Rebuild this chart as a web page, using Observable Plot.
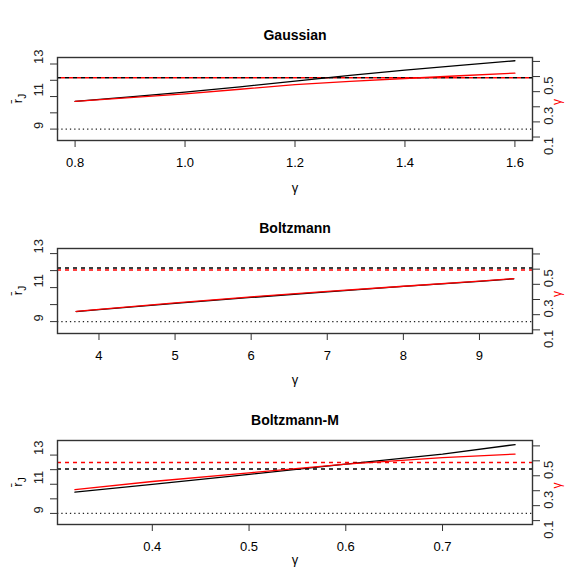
<!DOCTYPE html>
<html><head><meta charset="utf-8">
<script src="https://cdn.jsdelivr.net/npm/d3@7"></script>
<script src="https://cdn.jsdelivr.net/npm/@observablehq/plot@0.6"></script>
<style>
html,body{margin:0;padding:0;background:#fff;overflow:hidden;width:566px;height:569px}
#c svg{display:block;overflow:visible}
</style>
</head><body><div id="c"></div>
<script>
// ---- data ----
const titles = ["Gaussian", "Boltzmann", "Boltzmann-M"];

const gaussX     = [0.8, 0.9, 1.0, 1.1, 1.2, 1.3, 1.4, 1.5, 1.6];
const gaussBlack = [10.7, 10.98, 11.27, 11.6, 11.95, 12.3, 12.62, 12.92, 13.2];
const gaussRed   = [10.7, 10.93, 11.16, 11.45, 11.73, 11.93, 12.11, 12.28, 12.44];

const boltzX     = [3.7, 4, 5, 6, 7, 8, 9, 9.45];
const boltzBlack = [9.59, 9.7, 10.07, 10.42, 10.75, 11.07, 11.37, 11.52];
const boltzRed   = [9.6, 9.72, 10.1, 10.46, 10.78, 11.08, 11.38, 11.53];

const bmX     = [0.32, 0.4, 0.5, 0.6, 0.7, 0.775];
const bmBlack = [10.46, 10.99, 11.68, 12.38, 13.07, 13.72];
const bmRed   = [10.63, 11.19, 11.78, 12.38, 12.82, 13.07];

const dashBlack = [12.15, 12.16, 12.04];
const dashRed   = [12.15, 12.03, 12.5];
const dottedLevel = 9;

const gaussXTicks = [0.8, 1.0, 1.2, 1.4, 1.6];
const boltzXTicks = [4, 5, 6, 7, 8, 9];
const bmXTicks    = [0.4, 0.5, 0.6, 0.7];

const leftTicks   = [9, 10, 11, 12, 13];
const leftLabels  = [9, 11, 13];
const rightTicks  = [0.1, 0.2, 0.3, 0.4, 0.5, 0.6];
const rightLabels = [0.1, 0.3, 0.5];

const xLabel = "γ";
const rightLabel = "γ";
// ---- end data ----

const FONT = "'Liberation Sans', Arial, sans-serif";

const panels = [
  {title: titles[0], x: gaussX, black: gaussBlack, red: gaussRed, hb: dashBlack[0], hr: dashRed[0],
   xDomain: [0.768, 1.632], yDomain: [8.3, 13.4], rDomain: [0.077, 0.626], xTicks: gaussXTicks, xFmt: d3.format(".1f"),
   h: 190, mt: 57, mb: 50, titleY: 30, xlabY: 191},
  {title: titles[1], x: boltzX, black: boltzBlack, red: boltzRed, hb: dashBlack[1], hr: dashRed[1],
   xDomain: [3.455, 9.697], yDomain: [8.3, 13.3], rDomain: [0.076, 0.636], xTicks: boltzXTicks, xFmt: d3.format("d"),
   h: 190, mt: 58, mb: 47, titleY: 33, xlabY: 193},
  {title: titles[2], x: bmX, black: bmBlack, red: bmRed, hb: dashBlack[2], hr: dashRed[2],
   xDomain: [0.302, 0.793], yDomain: [8.24, 14.0], rDomain: [0.074, 0.636], xTicks: bmXTicks, xFmt: d3.format(".1f"),
   h: 189, mt: 60, mb: 45, titleY: 35, xlabY: 183}
];

const container = document.getElementById("c");

for (const p of panels) {
  const toL = r => p.yDomain[0] + (r - p.rDomain[0]) * (p.yDomain[1] - p.yDomain[0]) / (p.rDomain[1] - p.rDomain[0]);
  const blackData = p.x.map((v, i) => ({x: v, y: p.black[i]}));
  const redData = p.x.map((v, i) => ({x: v, y: p.red[i]}));
  const boxBottom = p.h - p.mb;
  const svg = Plot.plot({
    width: 566, height: p.h,
    marginLeft: 57, marginRight: 34, marginTop: p.mt, marginBottom: p.mb,
    style: {fontFamily: FONT, fontSize: "13px", color: "#000", background: "#fff", overflow: "visible"},
    x: {domain: p.xDomain},
    y: {domain: p.yDomain},
    marks: [
      Plot.axisX({ticks: p.xTicks, tickSize: 7, tickPadding: 10, tickFormat: p.xFmt, label: null, fontSize: 13, stroke: "#333"}),
      Plot.axisY({anchor: "left", ticks: leftTicks, tickSize: 7, tickFormat: () => "", label: null, stroke: "#333"}),
      Plot.text(leftLabels, {y: d => d, text: d => String(d), frameAnchor: "left", dx: -19, rotate: -90, fontSize: 13, fill: "#222"}),
      Plot.axisY({anchor: "right", ticks: rightTicks.map(toL), tickSize: 7, tickFormat: () => "", label: null, stroke: "#333"}),
      Plot.text(rightLabels, {y: d => toL(d), text: d => String(d), frameAnchor: "right", dx: 16, rotate: -90, fontSize: 13, fill: "#222"}),
      Plot.ruleY([dottedLevel], {stroke: "#222", strokeDasharray: "1.3,3", strokeWidth: 1.2}),
      Plot.ruleY([p.hb], {stroke: "#000", strokeDasharray: "4,4", strokeWidth: 1.5}),
      Plot.ruleY([p.hr], {stroke: "#f00", strokeDasharray: "4,4", strokeDashoffset: p.hb === p.hr ? 4 : 0, strokeWidth: 1.5}),
      Plot.line(blackData, {x: "x", y: "y", stroke: "#000", strokeWidth: 1.3}),
      Plot.line(redData, {x: "x", y: "y", stroke: "#f00", strokeWidth: 1.3}),
      Plot.frame({stroke: "#333", strokeWidth: 1.4}),
      Plot.text([p.title], {frameAnchor: "top", dy: p.titleY - p.mt, fontWeight: "bold", fontSize: 14, fill: "#000"}),
      Plot.text([xLabel], {frameAnchor: "bottom", dy: p.xlabY - boxBottom, fontSize: 13, fill: "#000"}),
      Plot.text([rightLabel], {frameAnchor: "right", dx: 25, rotate: -90, fontSize: 12, fill: "#f00"})
    ]
  });
  // left y label: r-bar with subscript J, rotated
  const cy = p.mt + (boxBottom - p.mt) / 2;
  const t = d3.select(svg).append("text")
    .attr("transform", `translate(19,${cy}) rotate(-90)`)
    .attr("text-anchor", "middle")
    .attr("dominant-baseline", "middle")
    .attr("font-family", FONT)
    .attr("font-size", 13)
    .attr("fill", "#000");
  t.append("tspan").text("r\u0304");
  t.append("tspan").attr("font-size", 10).attr("dy", "0.35em").text("J");
  container.appendChild(svg);
}
</script>
</body></html>
